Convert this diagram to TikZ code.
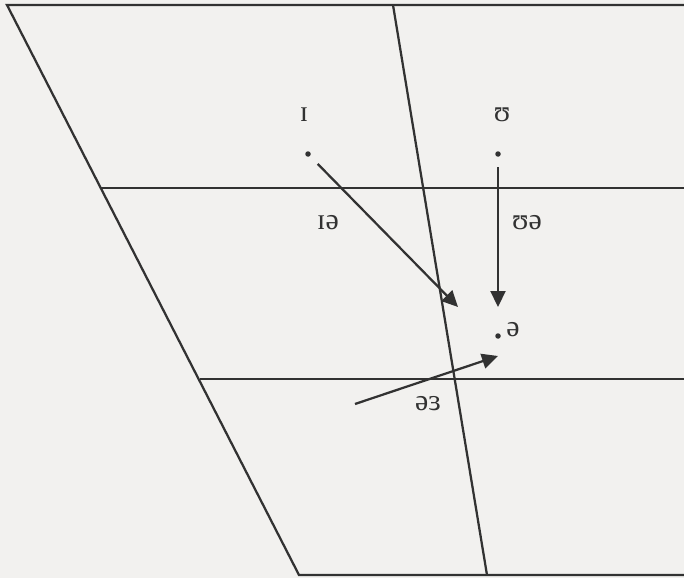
\documentclass[tikz,border=0pt]{standalone}
\usepackage{fontspec}
\setmainfont{Liberation Serif}
\usepackage{tikz}
\usetikzlibrary{arrows.meta}
\definecolor{ink}{RGB}{50,50,50}
\definecolor{paper}{RGB}{242,241,239}

\begin{document}
\begin{tikzpicture}[x=0.02cm, y=-0.02cm, color=ink, line width=0.045cm, vow/.style={font=\fontsize{17}{17}\selectfont, inner sep=0pt}, spot/.style={circle, fill, inner sep=0pt, minimum size=0.11cm}, arr/.style={-{Triangle[length=0.32cm,width=0.3cm]}}]
\fill[paper] (0,0) rectangle (684,578);
\useasboundingbox (0,0) rectangle (684,578);
% vowel chart frame
\draw (684,5) -- (7,5) -- (299,575) -- (684,575);
\draw (393,5) -- (487,575);
\draw (100,188) -- (684,188);
\draw (200,379) -- (684,379);
% starting and target points
\node[vow] (ih) at (304,115) {ɪ};
\node[spot] (ihdot) at (308,154) {};
\node[vow] (uh) at (502,115) {ʊ};
\node[spot] (uhdot) at (498,154) {};
\node[vow] (ihschwa) at (328,223) {ɪə};
\node[vow] (uhschwa) at (527,223) {ʊə};
\node[spot] (schdot) at (498,336) {};
\node[vow] (sch) at (513,330) {ə};
\node[vow] (ehschwa) at (428,404) {əɜ};
\coordinate (ihend) at (458,307);
\coordinate (uhend) at (498,307);
\coordinate (ehstart) at (355,404);
\coordinate (ehend) at (498,356);
% glides
\draw[arr, shorten <=0.2cm] (ihdot) -- (ihend);
\draw[arr, shorten <=0.19cm] (uhdot) -- (uhend);
\draw[arr] (ehstart) -- (ehend);
\end{tikzpicture}
\end{document}
